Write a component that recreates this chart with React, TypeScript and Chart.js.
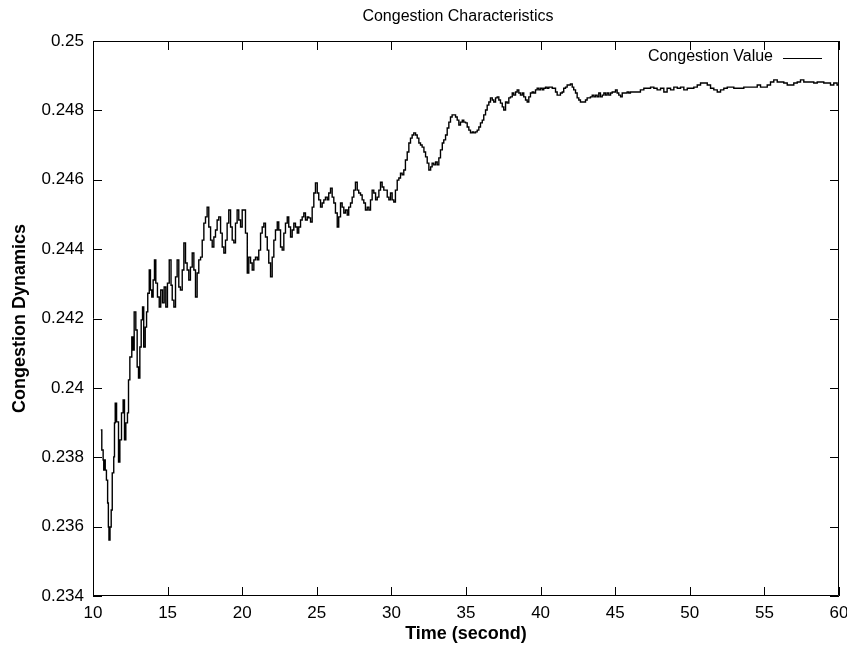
import React, { useEffect, useRef } from "react";
import { Chart, registerables } from "chart.js";

Chart.register(...registerables);

const chartTitle = "Congestion Characteristics";
const seriesLabel = "Congestion Value";
const xAxisTitle = "Time (second)";
const yAxisTitle = "Congestion Dynamics";

const times = [
  10.52, 10.59, 10.68, 10.72, 10.77, 10.82, 10.9, 10.98, 11.03, 11.07, 11.14, 11.22, 11.29, 11.39, 11.44, 11.49,
  11.58, 11.71, 11.8, 11.91, 12.02, 12.11, 12.2, 12.31, 12.38, 12.47, 12.6, 12.69, 12.76, 12.87, 12.96, 13.05,
  13.14, 13.23, 13.32, 13.4, 13.5, 13.59, 13.67, 13.77, 13.85, 13.94, 14.03, 14.12, 14.21, 14.32, 14.44, 14.54,
  14.66, 14.77, 14.88, 14.99, 15.11, 15.23, 15.31, 15.42, 15.53, 15.64, 15.75, 15.86, 15.98, 16.09, 16.2, 16.31,
  16.42, 16.53, 16.65, 16.76, 16.87, 16.98, 17.09, 17.21, 17.32, 17.43, 17.54, 17.65, 17.76, 17.88, 17.99, 18.1,
  18.21, 18.32, 18.43, 18.55, 18.66, 18.77, 18.88, 18.99, 19.1, 19.22, 19.33, 19.44, 19.55, 19.66, 19.77, 19.89,
  20.0, 20.11, 20.22, 20.34, 20.44, 20.56, 20.67, 20.78, 20.89, 21.01, 21.11, 21.23, 21.34, 21.45, 21.56, 21.68,
  21.78, 21.9, 22.01, 22.12, 22.23, 22.35, 22.45, 22.57, 22.68, 22.79, 22.9, 23.02, 23.12, 23.24, 23.35, 23.46,
  23.57, 23.69, 23.79, 23.91, 24.02, 24.13, 24.24, 24.36, 24.46, 24.58, 24.69, 24.8, 24.91, 25.03, 25.13, 25.25,
  25.36, 25.47, 25.58, 25.7, 25.8, 25.92, 26.03, 26.14, 26.25, 26.37, 26.47, 26.59, 26.7, 26.81, 26.92, 27.04,
  27.14, 27.26, 27.37, 27.48, 27.59, 27.71, 27.81, 27.93, 28.04, 28.15, 28.26, 28.38, 28.49, 28.6, 28.71, 28.82,
  28.94, 29.05, 29.16, 29.27, 29.38, 29.49, 29.61, 29.72, 29.83, 29.94, 30.05, 30.16, 30.27, 30.39, 30.5, 30.61,
  30.72, 30.83, 30.94, 31.06, 31.17, 31.28, 31.39, 31.5, 31.62, 31.73, 31.84, 31.95, 32.06, 32.18, 32.29, 32.4,
  32.51, 32.63, 32.73, 32.84, 32.96, 33.07, 33.18, 33.29, 33.41, 33.51, 33.63, 33.74, 33.85, 33.96, 34.07, 34.18,
  34.3, 34.41, 34.52, 34.63, 34.75, 34.85, 34.97, 35.08, 35.19, 35.3, 35.42, 35.52, 35.64, 35.75, 35.86, 35.97,
  36.09, 36.19, 36.31, 36.42, 36.53, 36.64, 36.76, 36.86, 36.98, 37.09, 37.2, 37.31, 37.43, 37.53, 37.65, 37.76,
  37.87, 37.98, 38.1, 38.2, 38.32, 38.43, 38.54, 38.65, 38.77, 38.87, 38.99, 39.1, 39.21, 39.32, 39.44, 39.54,
  39.66, 39.77, 39.88, 39.99, 40.11, 40.21, 40.33, 40.44, 40.55, 40.66, 40.78, 40.88, 41.0, 41.11, 41.22, 41.33,
  41.45, 41.55, 41.67, 41.78, 41.89, 42.0, 42.12, 42.22, 42.34, 42.45, 42.56, 42.67, 42.79, 42.9, 43.01, 43.12,
  43.23, 43.34, 43.46, 43.57, 43.68, 43.79, 43.9, 44.01, 44.13, 44.24, 44.35, 44.46, 44.57, 44.69, 44.8, 44.91,
  45.02, 45.13, 45.24, 45.36, 45.47, 45.69, 45.8, 45.91, 46.02, 46.36, 46.69, 46.92, 47.14, 47.37, 47.59, 47.81,
  48.04, 48.26, 48.48, 48.71, 48.93, 49.16, 49.38, 49.6, 49.83, 50.05, 50.27, 50.5, 50.72, 50.94, 51.17, 51.39,
  51.61, 51.84, 52.06, 52.28, 52.51, 52.73, 52.95, 53.18, 53.4, 53.62, 53.85, 54.07, 54.29, 54.52, 54.74, 54.96,
  55.19, 55.41, 55.63, 55.86, 56.08, 56.3, 56.53, 56.75, 56.97, 57.2, 57.42, 57.64, 57.87, 58.09, 58.31, 58.54,
  58.76, 58.98, 59.21, 59.43, 59.65, 59.87, 60.0,
];

const congestion = [
  0.23879, 0.23821, 0.23792, 0.23763, 0.23792, 0.23763, 0.23734, 0.23668, 0.23599, 0.23561, 0.23599, 0.23648, 0.23755, 0.23801, 0.23899, 0.23956,
  0.23902, 0.23786, 0.2385, 0.23928, 0.23965, 0.2385, 0.23899, 0.23928, 0.24023, 0.24089, 0.24147, 0.24109, 0.24219, 0.24167, 0.2406, 0.24028,
  0.24118, 0.24196, 0.24233, 0.24118, 0.24175, 0.24219, 0.24273, 0.2434, 0.24282, 0.24262, 0.24311, 0.24369, 0.24302, 0.24262, 0.24233, 0.24282,
  0.24245, 0.24291, 0.24233, 0.24302, 0.24369, 0.24296, 0.24253, 0.24233, 0.2432, 0.24369, 0.24291, 0.24282, 0.2434, 0.24418, 0.2436, 0.2434,
  0.24311, 0.24348, 0.24389, 0.2434, 0.24262, 0.24331, 0.24369, 0.24377, 0.24426, 0.24475, 0.24493, 0.24521, 0.24464, 0.24426, 0.24406, 0.24435,
  0.24455, 0.24484, 0.24493, 0.24446, 0.24406, 0.24389, 0.24426, 0.24475, 0.24513, 0.24464, 0.24426, 0.24418, 0.24475, 0.24513, 0.24484, 0.24464,
  0.24513, 0.24513, 0.24446, 0.24331, 0.24377, 0.2436, 0.2434, 0.24369, 0.24377, 0.24369, 0.24397, 0.24446, 0.24464, 0.24475, 0.24435, 0.24397,
  0.2436, 0.2432, 0.24377, 0.24426, 0.24455, 0.24478, 0.24455, 0.24406, 0.24397, 0.24446, 0.24475, 0.24493, 0.24464, 0.24435, 0.24455, 0.24475,
  0.24464, 0.24446, 0.24464, 0.24484, 0.24493, 0.24504, 0.24484, 0.24493, 0.2449, 0.24478, 0.24521, 0.24562, 0.24591, 0.24562, 0.24542, 0.24521,
  0.24533, 0.24542, 0.2455, 0.24542, 0.24562, 0.24576, 0.2455, 0.24533, 0.24504, 0.24464, 0.24493, 0.24533, 0.24521, 0.24504, 0.24513, 0.24498,
  0.24521, 0.24533, 0.2455, 0.2457, 0.24593, 0.2457, 0.24562, 0.24556, 0.24542, 0.24533, 0.24513, 0.24521, 0.24513, 0.24542, 0.2457, 0.24562,
  0.24542, 0.2455, 0.2457, 0.24593, 0.24579, 0.2457, 0.2457, 0.2455, 0.24542, 0.24562, 0.24542, 0.24536, 0.2457, 0.24599, 0.24605, 0.24619,
  0.24614, 0.24628, 0.24657, 0.2468, 0.24706, 0.2472, 0.24729, 0.24735, 0.24729, 0.2472, 0.24706, 0.247, 0.24694, 0.2468, 0.24666, 0.24648,
  0.24628, 0.24637, 0.24648, 0.24643, 0.24651, 0.24643, 0.24663, 0.24686, 0.24706, 0.24715, 0.24729, 0.24749, 0.24766, 0.24781, 0.24787, 0.24787,
  0.24781, 0.24772, 0.24758, 0.24766, 0.24772, 0.24766, 0.24764, 0.24752, 0.24743, 0.24735, 0.24738, 0.24735, 0.24738, 0.24743, 0.24752, 0.24764,
  0.24772, 0.24787, 0.24801, 0.24815, 0.24824, 0.24836, 0.2483, 0.24824, 0.24836, 0.24839, 0.2483, 0.24821, 0.2481, 0.24801, 0.24824, 0.24821,
  0.24836, 0.24839, 0.2485, 0.24844, 0.24853, 0.24859, 0.2485, 0.24844, 0.2485, 0.24839, 0.2483, 0.24824, 0.24839, 0.2485, 0.24853, 0.2485,
  0.24859, 0.24864, 0.24859, 0.24864, 0.24859, 0.24864, 0.24867, 0.24864, 0.24867, 0.24867, 0.24864, 0.24864, 0.24853, 0.24844, 0.24844, 0.2485,
  0.24853, 0.24864, 0.24867, 0.24873, 0.24873, 0.24876, 0.24867, 0.24859, 0.2485, 0.24836, 0.2483, 0.24824, 0.24824, 0.24824, 0.2483, 0.24836,
  0.24836, 0.24839, 0.24844, 0.24839, 0.24844, 0.24839, 0.2485, 0.24839, 0.24844, 0.2485, 0.24844, 0.2485, 0.24844, 0.2485, 0.24853, 0.24853,
  0.24859, 0.2485, 0.24844, 0.24839, 0.2485, 0.2485, 0.24853, 0.2485, 0.24853, 0.24853, 0.24859, 0.24864, 0.24864, 0.24867, 0.24864, 0.24859,
  0.24864, 0.24853, 0.24864, 0.24859, 0.24867, 0.24864, 0.24867, 0.24859, 0.24864, 0.24864, 0.24867, 0.24873, 0.24879, 0.24879, 0.24873, 0.24864,
  0.24859, 0.24853, 0.24859, 0.24864, 0.24867, 0.24867, 0.24864, 0.24864, 0.24864, 0.24867, 0.24867, 0.24867, 0.24867, 0.24873, 0.24867, 0.24867,
  0.24873, 0.24882, 0.24888, 0.24882, 0.24882, 0.24879, 0.24873, 0.24873, 0.24879, 0.24882, 0.24888, 0.24882, 0.24882, 0.24882, 0.24879, 0.24882,
  0.24882, 0.24879, 0.24879, 0.24873, 0.24879, 0.24873, 0.24873,
];

const xMin = 10;
const xMax = 60;
const xStep = 5;
const yMin = 0.234;
const yMax = 0.25;
const yStep = 0.002;

const FONT = "'Liberation Sans', Arial, Helvetica, sans-serif";

const framePlugin = {
  id: "gnuplotFrame",
  afterDraw(chart: any) {
    const { ctx, chartArea, scales } = chart;
    const { left, right, top, bottom } = chartArea;
    ctx.save();
    ctx.strokeStyle = "#000";
    ctx.lineWidth = 1;
    ctx.beginPath();
    ctx.rect(left + 0.5, top + 0.5, right - left - 1, bottom - top - 1);
    ctx.stroke();
    const tl = 9;
    ctx.beginPath();
    scales.x.ticks.forEach((t: any) => {
      const px = Math.round(scales.x.getPixelForValue(t.value)) + 0.5;
      ctx.moveTo(px, bottom);
      ctx.lineTo(px, bottom - tl);
      ctx.moveTo(px, top);
      ctx.lineTo(px, top + tl);
    });
    scales.y.ticks.forEach((t: any) => {
      const py = Math.round(scales.y.getPixelForValue(t.value)) + 0.5;
      ctx.moveTo(left, py);
      ctx.lineTo(left + tl, py);
      ctx.moveTo(right, py);
      ctx.lineTo(right - tl, py);
    });
    ctx.stroke();

    // title
    ctx.fillStyle = "#000";
    ctx.font = `16px ${FONT}`;
    ctx.textAlign = "center";
    ctx.textBaseline = "middle";
    ctx.fillText(chartTitle, (left + right) / 2 - 8, 17);

    // legend (gnuplot style: text then line sample)
    const ly = top + 16;
    ctx.textAlign = "right";
    ctx.fillText(chart.data.datasets[0].label, right - 66, ly);
    ctx.beginPath();
    ctx.moveTo(right - 56, ly + 1.5);
    ctx.lineTo(right - 17, ly + 1.5);
    ctx.stroke();
    ctx.restore();
  },
};

export default function App() {
  const ref = useRef<HTMLCanvasElement | null>(null);
  useEffect(() => {
    if (!ref.current) return;
    const points = times.map((t, i) => ({ x: t, y: congestion[i] }));
    const chart = new Chart(ref.current, {
      type: "line",
      data: {
        datasets: [
          {
            label: seriesLabel,
            data: points,
            borderColor: "#000",
            borderWidth: 1.4,
            pointRadius: 0,
            fill: false,
            stepped: true,
          },
        ],
      },
      options: {
        responsive: false,
        animation: false,
        events: [],
        layout: { padding: { top: 41, right: 0, left: 0, bottom: 0 } },
        plugins: {
          legend: { display: false },
          title: { display: false },
          tooltip: { enabled: false },
        },
        scales: {
          x: {
            type: "linear",
            min: xMin,
            max: xMax,
            grid: { display: false, drawTicks: false },
            border: { display: false },
            ticks: {
              stepSize: xStep,
              color: "#000",
              padding: 7,
              maxRotation: 0,
              font: { family: FONT, size: 17 },
            },
            title: {
              display: true,
              text: xAxisTitle,
              color: "#000",
              font: { family: FONT, size: 18, weight: "bold" },
              padding: { top: 0, bottom: 0 },
            },
            afterFit(scale: any) {
              scale.height = 49;
              scale.paddingRight = 8;
              scale.paddingLeft = 0;
            },
          },
          y: {
            type: "linear",
            min: yMin,
            max: yMax,
            grid: { display: false, drawTicks: false },
            border: { display: false },
            ticks: {
              stepSize: yStep,
              color: "#000",
              padding: 9,
              font: { family: FONT, size: 17 },
              callback: (v: any) => String(parseFloat(Number(v).toFixed(3))),
            },
            title: {
              display: true,
              text: yAxisTitle,
              color: "#000",
              font: { family: FONT, size: 18, weight: "bold" },
              padding: { top: 9, bottom: 0 },
            },
            afterFit(scale: any) {
              scale.width = 93;
              scale.paddingTop = 0;
              scale.paddingBottom = 0;
            },
          },
        },
      },
      plugins: [framePlugin],
    });
    return () => chart.destroy();
  }, []);

  return (
    <div style={{ position: "fixed", left: 0, top: 0, width: 847, height: 645, background: "#fff" }}>
      <canvas ref={ref} width={847} height={645} />
    </div>
  );
}
